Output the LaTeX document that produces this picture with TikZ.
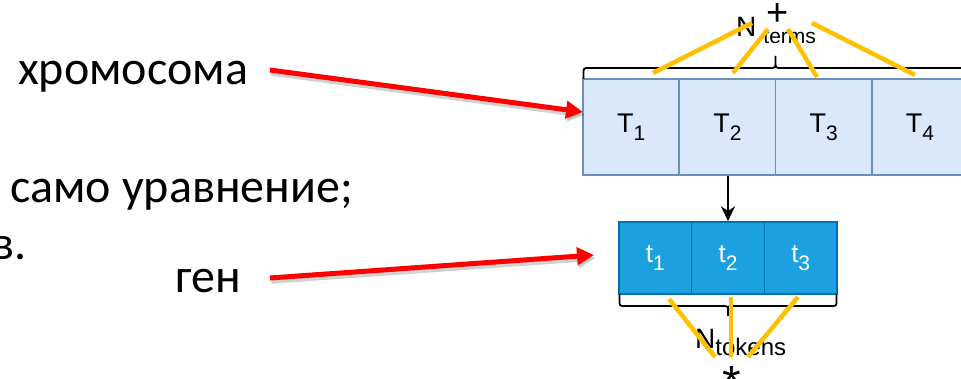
\documentclass[tikz,border=0pt]{standalone}
\usepackage{fontspec}
\setmainfont{Carlito}
\newfontfamily\arialfont{Liberation Sans}
\usetikzlibrary{arrows.meta}
\definecolor{lightfill}{HTML}{DAE8FC}
\definecolor{lightstroke}{HTML}{6C8EBF}
\definecolor{darkfill}{HTML}{1BA1E2}
\definecolor{darkstroke}{HTML}{006EAF}
\definecolor{amber}{HTML}{FFC000}
\newcommand{\lowsub}[1]{\raisebox{-8pt}{\fontsize{21}{21}\selectfont #1}}
\tikzset{
  tbox/.style={draw=lightstroke, fill=lightfill, line width=1.5pt, minimum width=96.25pt, minimum height=96pt, inner sep=0pt, font=\arialfont\fontsize{27}{27}\selectfont},
  gbox/.style={draw=darkstroke, fill=darkfill, line width=1.5pt, minimum width=72.67pt, minimum height=72pt, inner sep=0pt, text=white, font=\arialfont\fontsize{26}{26}\selectfont},
  bigtext/.style={inner sep=0pt, font=\fontsize{48}{58}\selectfont},
  redarrow/.style={draw=red, line width=5pt, -{Triangle[length=17pt,width=17pt]}},
  shadowarrow/.style={draw=black, opacity=0.18, line width=5.5pt, -{Triangle[length=17pt,width=17pt]}},
  orange/.style={draw=amber, line width=4.5pt},
  bracestyle/.style={draw=black, line width=1.8pt},
  label/.style={inner sep=0pt, font=\arialfont}
}
\begin{document}
\begin{tikzpicture}[x=1pt,y=-1pt]
\useasboundingbox (0,0) rectangle (961,379);
\clip (0,0) rectangle (961,379);

% left texts
\node[bigtext, anchor=base west] (chrom) at (18,85) {хромосома};
\node[bigtext, anchor=base west] (eq) at (10,203) {само уравнение;};
\node[bigtext, anchor=base east] (vdot) at (27,260) {в.};
\node[bigtext, anchor=base west] (gen) at (175,293) {ген};

% top boxes
\node[tbox] (T1) at (631.1,127) {T\lowsub{1}};
\node[tbox] (T2) at (727.4,127) {T\lowsub{2}};
\node[tbox] (T3) at (823.6,127) {T\lowsub{3}};
\node[tbox] (T4) at (919.9,127) {T\lowsub{4}};

% bottom boxes
\node[gbox] (t1) at (655.3,258) {t\lowsub{1}};
\node[gbox] (t2) at (728,258) {t\lowsub{2}};
\node[gbox] (t3) at (800.7,258) {t\lowsub{3}};

% black arrow
\draw[line width=2pt, -{Stealth[length=15pt,width=14pt]}] (T2.south -| t2.north) -- (t2.north);

% braces
\draw[bracestyle] (583.5,79) -- (583.5,74) .. controls (583.5,68) .. (589.5,68) -- (769.5,68)
  .. controls (775.5,68) .. (775.5,61) -- (775.5,56) -- (775.5,61)
  .. controls (775.5,68) .. (781.5,68) -- (962,68) .. controls (968,68) .. (968,74) -- (968,79);
\draw[bracestyle] (619.5,294) -- (619.5,300) .. controls (619.5,306) .. (625.5,306) -- (722,306)
  .. controls (728,306) .. (728,312) -- (728,316) -- (728,312)
  .. controls (728,306) .. (734,306) -- (830.5,306) .. controls (836.5,306) .. (836.5,300) -- (836.5,294);

% labels
\node[label, anchor=base west] (nterms) at (736,37) {{\fontsize{28}{28}\selectfont N}\hspace{7pt}\raisebox{-7pt}{\fontsize{21}{21}\selectfont terms}};
\node[label, anchor=base west] (ntokens) at (695,348) {{\fontsize{28}{28}\selectfont N}\raisebox{-7pt}{\fontsize{24}{24}\selectfont tokens}};
\node[label, anchor=base, font=\arialfont\fontsize{38}{38}\selectfont] (plus) at (777.5,26) {+};
\node[label, anchor=base, font=\arialfont\fontsize{48}{48}\selectfont] (star) at (731.5,399) {*};

% orange lines
\coordinate (p1a) at (653,73); \coordinate (p1b) at (752,23);
\coordinate (p2a) at (733,73); \coordinate (p2b) at (768,29);
\coordinate (p3a) at (817,77); \coordinate (p3b) at (788,29);
\coordinate (p4a) at (915,75); \coordinate (p4b) at (812,23);
\draw[orange] (p1a) -- (p1b);
\draw[orange] (p2a) -- (p2b);
\draw[orange] (p3a) -- (p3b);
\draw[orange] (p4a) -- (p4b);
\coordinate (s1a) at (669,299); \coordinate (s1b) at (715,357);
\coordinate (s2a) at (731,297); \coordinate (s2b) at (731,357);
\coordinate (s3a) at (798,297); \coordinate (s3b) at (748,357);
\draw[orange] (s1a) -- (s1b);
\draw[orange] (s2a) -- (s2b);
\draw[orange] (s3a) -- (s3b);

% red arrows
\coordinate (r1s) at (270,70); \coordinate (r1e) at (583,112);
\coordinate (r2s) at (270,278); \coordinate (r2e) at (594,255);
\draw[shadowarrow] ([shift={(1.5,3)}]r1s) -- ([shift={(1.5,3)}]r1e);
\draw[shadowarrow] ([shift={(1.5,3)}]r2s) -- ([shift={(1.5,3)}]r2e);
\draw[redarrow] (r1s) -- (r1e);
\draw[redarrow] (r2s) -- (r2e);
\end{tikzpicture}
\end{document}
